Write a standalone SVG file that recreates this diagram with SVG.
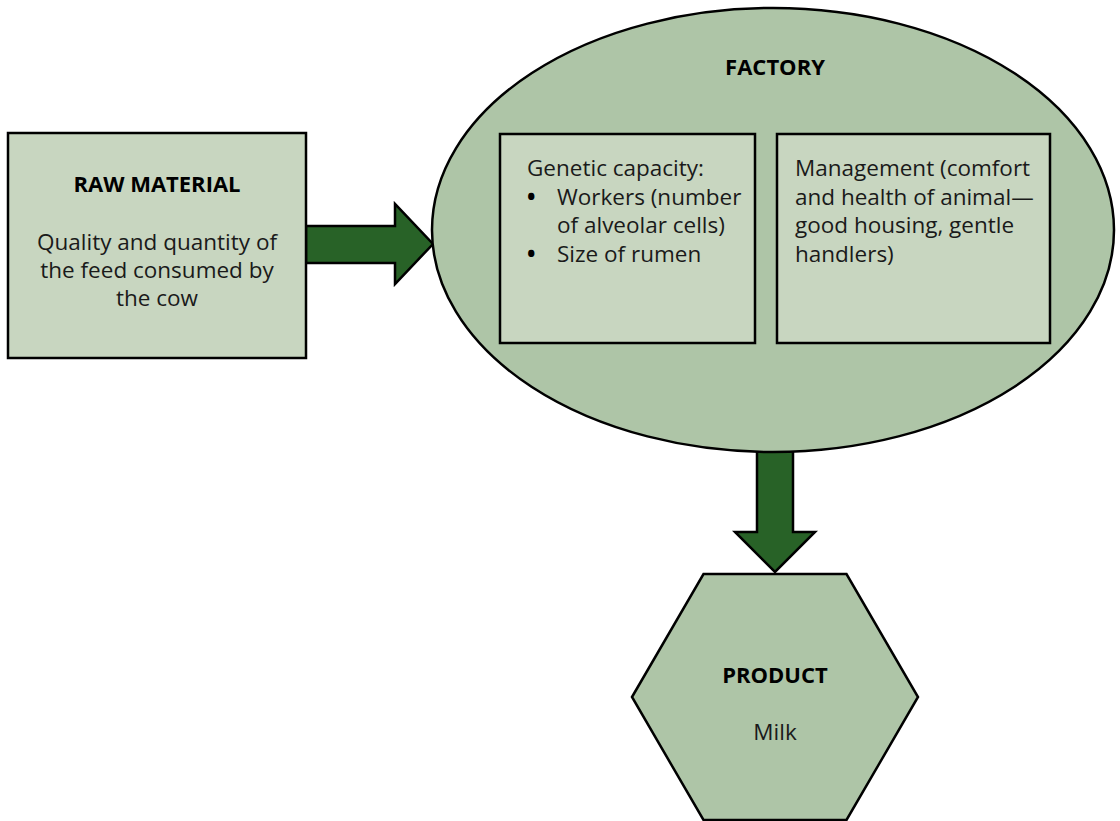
<svg xmlns="http://www.w3.org/2000/svg" width="1120" height="821" viewBox="0 0 1120 821">
  <style>
    .light { fill: #c8d6c0; stroke: #000; stroke-width: 2.5; }
    .mid { fill: #aec5a7; stroke: #000; stroke-width: 2.5; }
    .arrow { fill: #286227; stroke: #000; stroke-width: 2.5; stroke-linejoin: miter; }
    text { font-family: "Open Sans", "Lato", "Liberation Sans", sans-serif; font-size: 22.5px; fill: #1a1a1a; }
    .title { font-weight: bold; font-size: 22px; fill: #000; }
    .c { text-anchor: middle; }
    .bullet { font-weight: bold; fill: #000; }
  </style>

  <rect width="1120" height="821" fill="#fff"/>

  <!-- block arrows between stages -->
  <g id="connectors">
    <polygon class="arrow" points="306,226 395,226 395,204 433,244 395,284 395,263 306,263"/>
    <polygon class="arrow" points="757,450 793,450 793,532 815,532 775,572 735,532 757,532"/>
  </g>

  <g id="raw-material">
    <rect class="light" x="8" y="133" width="298" height="225"/>
    <text class="title c" x="157" y="192">RAW MATERIAL</text>
    <text class="c" x="157" y="250">Quality and quantity of</text>
    <text class="c" x="157" y="278">the feed consumed by</text>
    <text class="c" x="157" y="306">the cow</text>
  </g>

  <g id="factory">
    <ellipse class="mid" cx="773" cy="230" rx="341" ry="222"/>
    <text class="title c" x="775" y="75">FACTORY</text>
  </g>

  <g id="genetic-capacity">
    <rect class="light" x="500" y="134" width="255" height="209"/>
    <text x="527" y="176">Genetic capacity:</text>
    <text class="bullet" x="527" y="205">•</text>
    <text x="557" y="205">Workers (number</text>
    <text x="557" y="233">of alveolar cells)</text>
    <text class="bullet" x="527" y="262">•</text>
    <text x="557" y="262">Size of rumen</text>
  </g>

  <g id="management">
    <rect class="light" x="777" y="134" width="273" height="209"/>
    <text x="795" y="176">Management (comfort</text>
    <text x="795" y="205">and health of animal—</text>
    <text x="795" y="233">good housing, gentle</text>
    <text x="795" y="262">handlers)</text>
  </g>

  <g id="product">
    <polygon class="mid" points="632,697 703.5,574 846.5,574 918,697 846.5,820 703.5,820"/>
    <text class="title c" x="775" y="683">PRODUCT</text>
    <text class="c" x="775" y="740">Milk</text>
  </g>
</svg>
